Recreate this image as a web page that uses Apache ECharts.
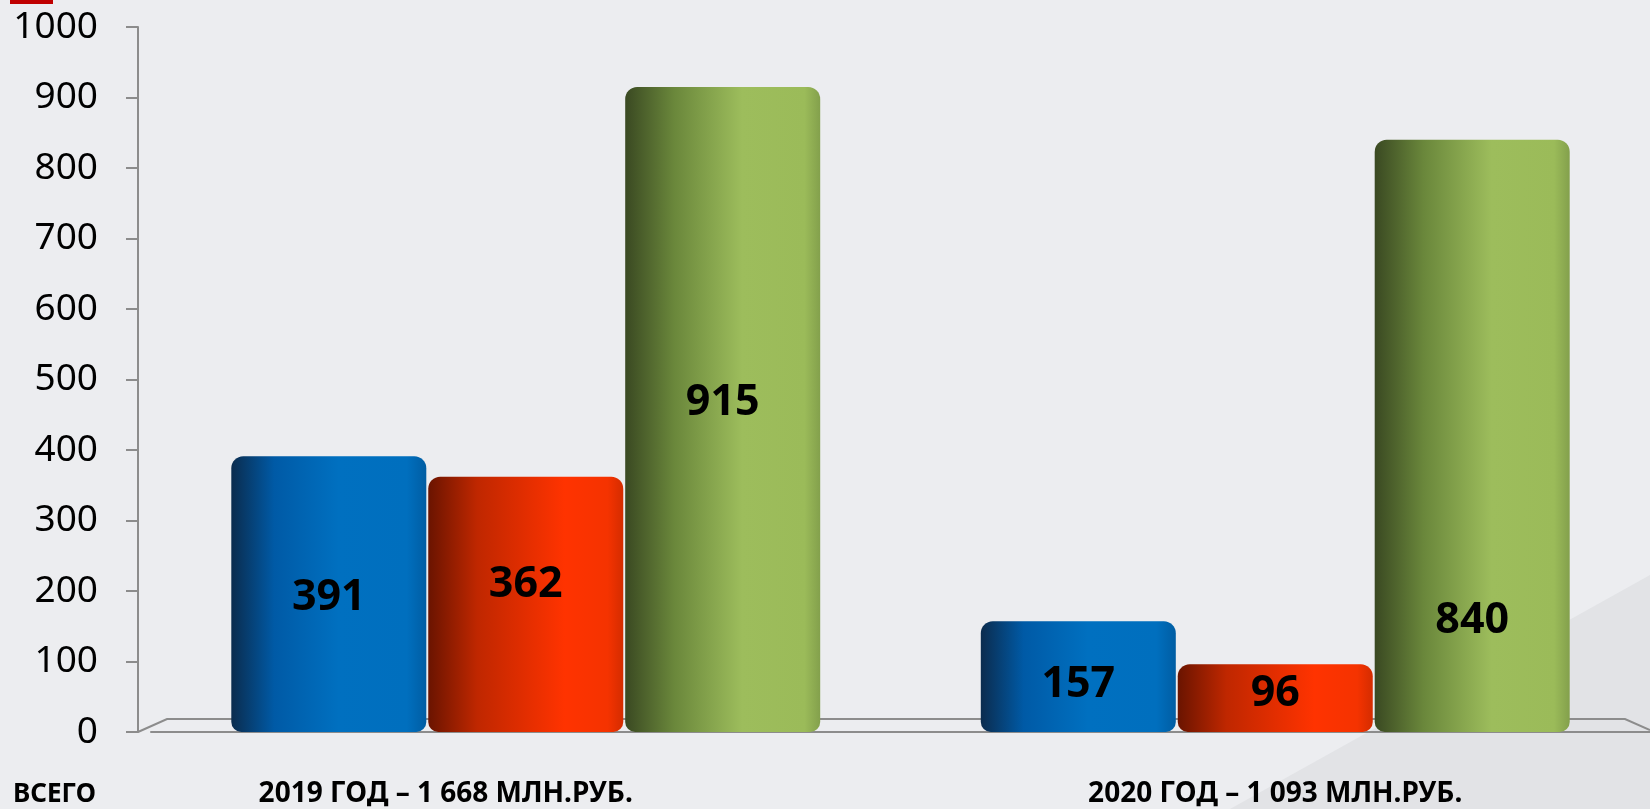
<!DOCTYPE html>
<html>
<head>
<meta charset="utf-8">
<script src="https://cdn.jsdelivr.net/npm/echarts@6/dist/echarts.min.js"></script>
<style>
  html, body { margin: 0; padding: 0; background: #ecedf0; }
  #chart { width: 1650px; height: 809px; }
</style>
</head>
<body>
<div id="chart"></div>
<script>
// data
var categories = ['2019 ГОД – 1 668 МЛН.РУБ.', '2020 ГОД – 1 093 МЛН.РУБ.'];
var seriesNames = ['Синий', 'Красный', 'Зелёный'];
var blueValues = [391, 157];
var redValues = [362, 96];
var greenValues = [915, 840];
var yTicks = [0, 100, 200, 300, 400, 500, 600, 700, 800, 900, 1000];
var totalLabel = 'ВСЕГО';

var gradients = [
    [['#0b2c4e', 0], ['#005aa6', 0.22], ['#0070c0', 0.55], ['#006fbe', 0.9], ['#005da3', 1]],
    [['#6a1400', 0], ['#bf2700', 0.25], ['#ff3300', 0.7], ['#f53300', 0.92], ['#d42c00', 1]],
    [['#3a4922', 0], ['#6a873b', 0.25], ['#9dbd5c', 0.6], ['#9bbb59', 0.92], ['#83a04c', 1]]
];

// label nudges, [series][category]
var labelShift = [[[0, 4], [0, 8]], [[0, -20], [0, -4]], [[0, -7], [0, 185]]];

function grad(stops) {
    return new echarts.graphic.LinearGradient(0, 0, 1, 0, stops.map(function (s) {
        return { offset: s[1], color: s[0] };
    }));
}

var chart = echarts.init(document.getElementById('chart'));
var allValues = [blueValues, redValues, greenValues];

var series = allValues.map(function (vals, si) {
    return {
        name: seriesNames[si],
        type: 'bar',
        barWidth: 195,
        barGap: '1%',
        itemStyle: { color: grad(gradients[si]), borderRadius: [12, 12, 10, 10] },
        label: {
            show: true,
            position: 'inside',
            color: '#000',
            fontFamily: 'Noto Sans',
            fontWeight: 'bold',
            fontSize: 43
        },
        data: vals.map(function (v, ci) {
            return { value: v, label: { offset: labelShift[si][ci] } };
        })
    };
});

chart.setOption({
    backgroundColor: '#ecedf0',
    animation: false,
    grid: { left: 151, right: 0, top: 27, bottom: 77 },
    graphic: [
        { type: 'rect', shape: { x: 10, y: 0, width: 43, height: 4 }, style: { fill: '#c00000' } },
        { type: 'polygon', z: -1, shape: { points: [[1650, 575], [1650, 809], [1230, 809]] }, style: { fill: '#e2e3e6' } },
        { type: 'polyline', z: 1, shape: { points: [[138, 732], [167, 719], [1625, 719], [1650, 730]] },
          style: { stroke: '#8c8c8c', lineWidth: 2, fill: null } },
        { type: 'text', left: 13, top: 782,
          style: { text: totalLabel, font: 'bold 26px "Noto Sans"', fill: '#000' } }
    ],
    xAxis: {
        type: 'category',
        data: categories,
        axisLine: { lineStyle: { color: '#8c8c8c', width: 2 } },
        axisTick: { show: false },
        axisLabel: {
            margin: 48,
            formatter: function (v, i) { return i === 0 ? '{a|' + v + '}' : '{b|' + v + '}'; },
            rich: {
                a: { fontFamily: 'Noto Sans', fontWeight: 'bold', fontSize: 28, color: '#000', padding: [0, 160, 0, 0] },
                b: { fontFamily: 'Noto Sans', fontWeight: 'bold', fontSize: 28, color: '#000' }
            }
        }
    },
    yAxis: {
        type: 'value',
        min: yTicks[0],
        max: yTicks[yTicks.length - 1],
        interval: yTicks[1] - yTicks[0],
        offset: 13,
        axisLine: { show: true, lineStyle: { color: '#8c8c8c', width: 2 } },
        axisTick: { show: true, length: 12, lineStyle: { color: '#8c8c8c', width: 2 } },
        splitLine: { show: false },
        axisLabel: {
            margin: 40,
            color: '#000',
            fontFamily: 'Noto Sans',
            fontSize: 37,
            formatter: function (v) { return String(v); }
        }
    },
    series: series
});
</script>
</body>
</html>
